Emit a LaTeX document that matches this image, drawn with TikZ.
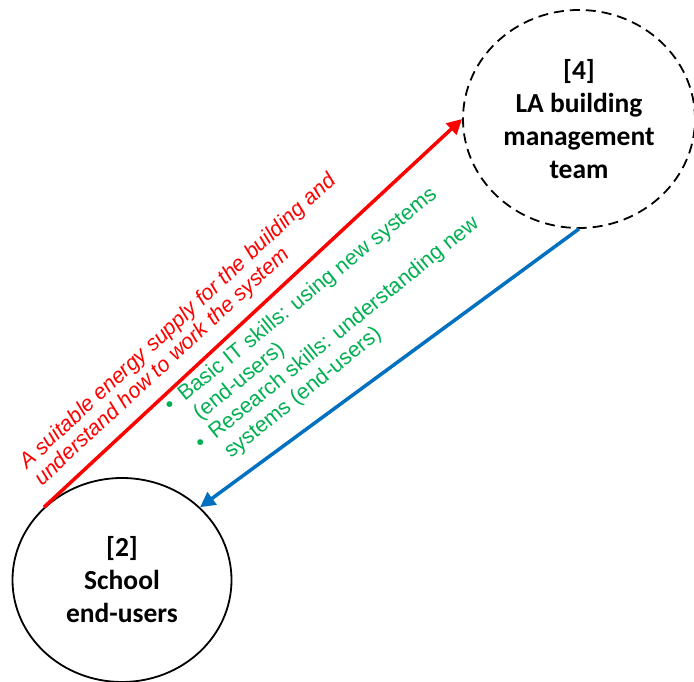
\documentclass[tikz,border=0pt]{standalone}
\usepackage{fontspec}
\setmainfont{Carlito}
\newfontfamily\arialfont{Liberation Sans}
\definecolor{flow_red}{RGB}{255, 0, 0}
\definecolor{flow_blue}{RGB}{0, 112, 192}
\definecolor{flow_green}{RGB}{0, 176, 80}
\usetikzlibrary{arrows.meta, shapes.geometric}

\begin{document}
\begin{tikzpicture}[x=1pt, y=1pt,
        actor/.style={ellipse, draw=black, line width=1.8pt, inner sep=0pt,
                      align=center, font=\fontsize{27.5}{33}\selectfont\bfseries},
        flow/.style={line width=3.5pt, -{Triangle[length=15pt, width=15pt]}},
        lbl/.style={inner sep=0pt, anchor=base west},
      ]
        \useasboundingbox (0,0) rectangle (694,682);

        \node[actor, minimum width=219pt, minimum height=204pt] (school)
          at (122,102) {[2]\\School\\end-users};
        \node[actor, dash pattern=on 10pt off 6pt,
              minimum width=232pt, minimum height=218pt] (lateam)
          at (579,563) {[4]\\LA building\\management\\team};

        \draw[flow, flow_red]  (school.137) -- (lateam.west);
        \draw[flow, flow_blue] (lateam.south) -- (school.43);

        \node[lbl, flow_red, rotate=42.9,
              font=\arialfont\fontsize{21.5}{22.5}\selectfont\itshape] (supply)
          at (27,212) {\begin{tabular}[t]{@{}l@{}}
            A suitable energy supply for the building and\\
            understand how to work the system
          \end{tabular}};

        \node[lbl, flow_green, rotate=39,
              font=\arialfont\fontsize{21.5}{24.5}\selectfont] (skills)
          at (171,269) {\begin{tabular}[t]{@{}l@{\hspace{10pt}}l@{}}
            \textbullet & Basic IT skills: using new systems\\
                        & (end-users)\\
            \textbullet & Research skills: understanding new\\
                        & systems (end-users)
          \end{tabular}};
      \end{tikzpicture}
\end{document}
